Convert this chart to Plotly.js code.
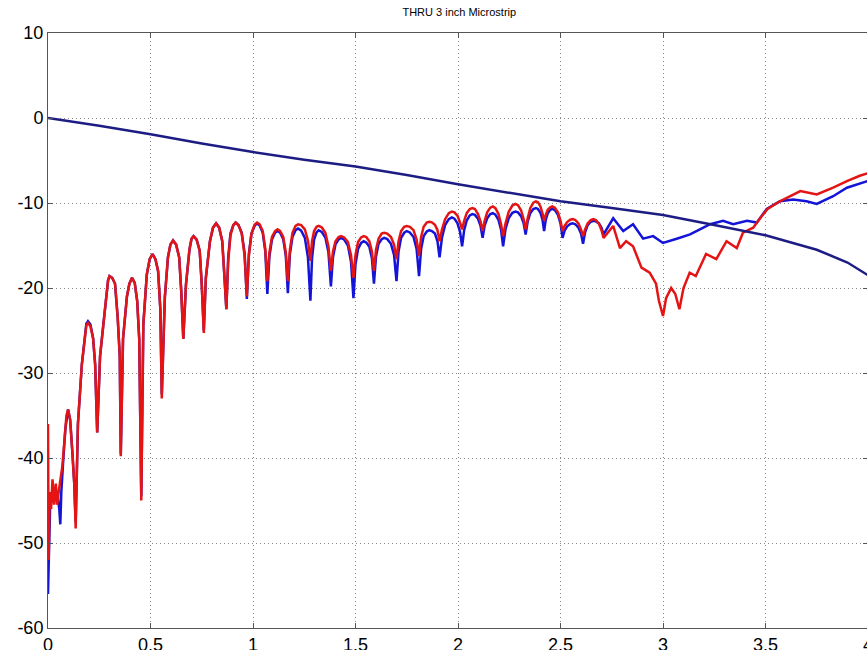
<!DOCTYPE html>
<html><head><meta charset="utf-8">
<script src="https://cdn.plot.ly/plotly-3.0.1.min.js"></script>
<style>html,body{margin:0;padding:0;overflow:hidden;background:#fff}#c{width:869px;height:650px}</style>
</head><body><div id="c"></div>
<script>
const titleText = "THRU 3 inch Microstrip";
const xTicks = [0,0.5,1,1.5,2,2.5,3,3.5,4];
const xTickText = ["0","0.5","1","1.5","2","2.5","3","3.5","4"];
const yTicks = [-60,-50,-40,-30,-20,-10,0,10];
const yTickText = ["-60","-50","-40","-30","-20","-10","0","10"];

// Navy trace (insertion loss)
const navyX = [0,0.25,0.5,0.75,1.0,1.25,1.5,1.75,2.0,2.25,2.5,2.75,3.0,3.25,3.5,3.75,3.9,4.0];
const navyY = [0,-0.9,-1.9,-3.0,-4.0,-4.9,-5.7,-6.7,-7.8,-8.8,-9.8,-10.6,-11.4,-12.6,-13.8,-15.5,-17.0,-18.5];

// Red trace
const redX = [0,0.003,0.008,0.015,0.022,0.030,0.038,0.045,0.052,0.060,0.070,0.080,0.090,0.098,0.108,0.118,0.128,0.135,0.142,0.146,0.165,0.18,0.187,0.195,0.207,0.22,0.23,0.24,0.254,0.27,0.287,0.293,0.30,0.313,0.327,0.34,0.35,0.355,0.366,0.385,0.397,0.41,0.423,0.435,0.445,0.455,0.465,0.482,0.496,0.51,0.524,0.537,0.548,0.555,0.57,0.585,0.597,0.61,0.625,0.64,0.65,0.66,0.673,0.69,0.70,0.71,0.725,0.74,0.75,0.76,0.77,0.79,0.805,0.82,0.835,0.85,0.86,0.87,
0.879,0.890,0.904,0.915,0.929,0.945,0.959,0.97,
0.98,0.9925,1.0075,1.02,1.0325,1.0475,1.06,1.07,
1.08,1.0925,1.1075,1.12,1.1325,1.1475,1.16,1.17,
1.18,1.1925,1.2075,1.22,1.235,1.253,1.268,1.28,
1.288,1.298,1.31,1.32,1.335,1.353,1.368,1.38,
1.39,1.4025,1.4175,1.43,1.445,1.463,1.478,1.49,
1.50,1.5125,1.5275,1.54,1.5525,1.5675,1.58,1.59,
1.60,1.6125,1.6275,1.64,1.655,1.673,1.688,1.70,
1.71,1.7225,1.7375,1.75,1.765,1.783,1.798,1.81,
1.82,1.8325,1.8475,1.86,1.8725,1.8875,1.90,1.91,
1.922,1.937,1.955,1.97,1.9825,1.9975,2.01,2.02,
2.03,2.0425,2.0575,2.07,2.0825,2.0975,2.11,2.12,
2.13,2.1425,2.1575,2.17,2.1825,2.1975,2.21,2.22,
2.232,2.247,2.265,2.28,2.2925,2.3075,2.32,2.33,
2.34,2.3525,2.3675,2.38,2.39,2.402,2.412,2.42,
2.428,2.438,2.45,2.46,2.4725,2.4875,2.50,2.51,
2.52,2.5325,2.5475,2.56,2.5725,2.5875,2.60,2.61,
2.62,2.6325,2.6475,2.66,2.6725,2.6875,2.70,2.71,
2.757,2.79,2.82,2.854,2.895,2.935,2.966,2.98,3.0,3.015,3.04,3.06,3.08,3.10,3.13,3.16,3.21,3.26,3.31,3.36,3.39,3.44,3.47,3.51,3.57,3.62,3.67,3.75,3.83,3.90,3.96,4.0];
const redY = [-36,-52,-44,-46,-42.5,-45.5,-43,-45.5,-44,-42.5,-41,-38,-35,-34.3,-35.5,-39,-43,-48.3,-41,-36,-29,-25.4,-24.4,-24.1,-24.5,-25.9,-29,-37,-28,-24.3,-19.8,-19.1,-18.6,-18.8,-19.5,-23.5,-28,-39.8,-26,-21,-19.5,-18.8,-19.4,-21.5,-26,-45,-24.3,-18.4,-16.6,-16.0,-16.6,-18,-22.5,-33,-21.1,-16.4,-14.9,-14.4,-14.9,-16.4,-20.4,-26,-19.6,-15.5,-14.2,-13.9,-14.3,-15.6,-19.6,-25.3,-18.8,-14.5,-12.9,-12.4,-12.9,-14.5,-18.4,-22.5,
-16.9,-13.8,-12.6,-12.3,-12.6,-13.6,-16.2,-21,
-16.2,-13.6,-12.56,-12.3,-12.5,-13.3,-15.4,-19.2,
-15.8,-14.0,-13.3,-13.1,-13.3,-14.0,-15.8,-19.2,
-15.5,-13.5,-12.7,-12.5,-12.6,-13.1,-14.4,-16.8,
-14.5,-13.3,-12.8,-12.7,-12.86,-13.5,-15.1,-18,
-15.7,-14.5,-14.0,-13.9,-14.05,-14.6,-16.1,-18.8,
-16.1,-14.6,-14.05,-13.9,-14.0,-14.5,-15.7,-18,
-15.5,-14.2,-13.6,-13.5,-13.6,-14.0,-14.9,-16.6,
-14.5,-13.3,-12.8,-12.7,-12.8,-13.2,-14.3,-16.2,
-14.0,-12.8,-12.3,-12.2,-12.27,-12.55,-13.2,-14.5,
-13.1,-11.9,-11.2,-11.0,-11.1,-11.5,-12.3,-13.1,
-12.1,-11.2,-10.7,-10.6,-10.7,-11.3,-12.2,-13.3,
-12.1,-11.1,-10.55,-10.4,-10.6,-11.3,-12.5,-13.9,
-12.4,-11.05,-10.3,-10.1,-10.25,-10.85,-11.9,-13.1,
-11.8,-10.6,-9.95,-9.8,-9.9,-10.4,-11.2,-12.1,
-11.4,-10.8,-10.5,-10.4,-10.55,-11.1,-12.1,-13.3,
-12.7,-12.25,-11.97,-11.9,-12.0,-12.4,-13.1,-13.9,
-13.1,-12.4,-12.0,-11.9,-12.0,-12.45,-13.2,-14.1,
-12.7,-15.3,-14.5,-15.1,-17.6,-18.2,-19.5,-21.5,-23.3,-21.2,-20,-20.7,-22.5,-20,-18.2,-18.6,-16,-16.6,-14.5,-15.3,-13.5,-12.9,-11.9,-10.7,-9.8,-9.2,-8.6,-9.0,-8.2,-7.4,-6.8,-6.5];

// Blue trace
const blueX = [0,0.004,0.01,0.02,0.03,0.045,0.055,0.06,0.065,0.075,0.085,0.098,0.108,0.118,0.128,0.135,0.142,0.146,0.165,0.18,0.187,0.195,0.207,0.22,0.23,0.24,0.254,0.27,0.287,0.293,0.30,0.313,0.327,0.34,0.35,0.355,0.366,0.385,0.397,0.41,0.423,0.435,0.445,0.455,0.465,0.482,0.496,0.51,0.524,0.537,0.548,0.555,0.57,0.585,0.597,0.61,0.625,0.64,0.65,0.66,0.673,0.69,0.70,0.71,0.725,0.74,0.75,0.76,0.77,0.79,0.805,0.82,0.835,0.85,0.86,0.87,
0.879,0.890,0.904,0.915,0.929,0.945,0.959,0.97,
0.98,0.9925,1.0075,1.02,1.0325,1.0475,1.06,1.07,
1.08,1.0925,1.1075,1.12,1.1325,1.1475,1.16,1.17,
1.18,1.1925,1.2075,1.22,1.235,1.253,1.268,1.28,
1.288,1.298,1.31,1.32,1.335,1.353,1.368,1.38,
1.39,1.4025,1.4175,1.43,1.445,1.463,1.478,1.49,
1.50,1.5125,1.5275,1.54,1.5525,1.5675,1.58,1.59,
1.60,1.6125,1.6275,1.64,1.655,1.673,1.688,1.70,
1.71,1.7225,1.7375,1.75,1.765,1.783,1.798,1.81,
1.82,1.8325,1.8475,1.86,1.8725,1.8875,1.90,1.91,
1.922,1.937,1.955,1.97,1.9825,1.9975,2.01,2.02,
2.03,2.0425,2.0575,2.07,2.0825,2.0975,2.11,2.12,
2.13,2.1425,2.1575,2.17,2.1825,2.1975,2.21,2.22,
2.232,2.247,2.265,2.28,2.2925,2.3075,2.32,2.33,
2.34,2.3525,2.3675,2.38,2.39,2.402,2.412,2.42,
2.428,2.438,2.45,2.46,2.4725,2.4875,2.50,2.51,
2.52,2.5325,2.5475,2.56,2.5725,2.5875,2.60,2.61,
2.62,2.6325,2.6475,2.66,2.6725,2.6875,2.70,2.71,
2.757,2.806,2.854,2.903,2.952,3.0,3.067,3.132,3.18,3.23,3.293,3.342,3.41,3.458,3.506,3.57,3.635,3.70,3.75,3.83,3.897,4.0];
const blueY = [-56,-53,-46,-44,-45,-44,-46,-47.8,-44,-40,-36.5,-34.3,-35.5,-39,-43,-47.5,-41,-36,-29,-25.2,-24.2,-23.9,-24.3,-25.9,-29,-37,-28,-24.3,-19.8,-19.1,-18.6,-18.8,-19.5,-23.5,-28,-39.5,-26,-21,-19.5,-18.8,-19.4,-21.5,-26,-44.5,-24.3,-18.4,-16.6,-16.0,-16.6,-18,-22.5,-32.5,-21.1,-16.4,-14.9,-14.4,-14.9,-16.4,-20.4,-26,-19.6,-15.5,-14.2,-13.9,-14.3,-15.6,-19.6,-25,-18.8,-14.5,-12.9,-12.4,-12.9,-14.5,-18.4,-22.5,
-16.4,-13.6,-12.6,-12.3,-12.6,-13.5,-15.9,-21.3,
-15.96,-13.6,-12.7,-12.4,-12.65,-13.5,-15.7,-20.7,
-16.3,-14.3,-13.5,-13.3,-13.5,-14.25,-16.2,-20.6,
-16.0,-14.0,-13.2,-13.0,-13.25,-14.1,-16.4,-21.5,
-16.5,-14.3,-13.45,-13.2,-13.4,-14.06,-15.8,-19.8,
-16.4,-14.85,-14.27,-14.1,-14.3,-15.0,-16.9,-21.2,
-17.2,-15.4,-14.7,-14.5,-14.65,-15.15,-16.5,-19.5,
-16.3,-14.8,-14.26,-14.1,-14.25,-14.8,-16.1,-19.2,
-15.7,-14.1,-13.5,-13.3,-13.46,-14.0,-15.4,-18.6,
-15.4,-13.9,-13.36,-13.2,-13.3,-13.6,-14.5,-16.4,
-14.05,-12.6,-11.9,-11.7,-11.84,-12.4,-13.4,-15.1,
-13.2,-12.06,-11.45,-11.3,-11.4,-11.86,-12.7,-14.1,
-12.65,-11.8,-11.3,-11.2,-11.36,-12.0,-13.15,-15.1,
-13.05,-11.8,-11.16,-11.0,-11.1,-11.54,-12.35,-13.7,
-12.15,-11.2,-10.72,-10.6,-10.7,-11.14,-11.95,-13.3,
-12.0,-11.2,-10.8,-10.7,-10.84,-11.4,-12.4,-14.1,
-13.25,-12.74,-12.47,-12.4,-12.5,-12.9,-13.6,-14.8,
-13.45,-12.6,-12.2,-12.1,-12.16,-12.4,-12.9,-13.7,
-11.8,-13.3,-12.5,-14.2,-13.9,-14.7,-14.2,-13.7,-13.1,-12.5,-12.1,-12.5,-12.1,-12.3,-10.7,-9.8,-9.6,-9.8,-10.1,-9.2,-8.2,-7.4];

const traces = [
  {x: blueX, y: blueY, type: 'scatter', mode: 'lines', line: {color: '#1414d8', width: 2.5}, hoverinfo: 'skip'},
  {x: redX, y: redY, type: 'scatter', mode: 'lines', line: {color: '#e41414', width: 2.5}, hoverinfo: 'skip'},
  {x: navyX, y: navyY, type: 'scatter', mode: 'lines', line: {color: '#1c1c84', width: 2.5}, hoverinfo: 'skip'}
];

const axisCommon = {
  showline: true, linecolor: '#555', linewidth: 1, mirror: 'ticks',
  ticks: 'inside', ticklen: 5, tickcolor: '#555', tickwidth: 1,
  showgrid: true, gridcolor: '#888', gridwidth: 1, griddash: '1px,3px',
  zeroline: false, tickfont: {family: 'Liberation Sans, Arial, sans-serif', size: 18, color: '#000'},
  tickmode: 'array', automargin: false, fixedrange: true, ticklabeloverflow: 'allow'
};

const layout = {
  width: 869, height: 650,
  margin: {l: 48, r: 1, t: 33, b: 22},
  paper_bgcolor: '#fff', plot_bgcolor: '#fff',
  showlegend: false,
  title: {text: titleText, x: 0.5285, xanchor: 'center', y: 0.982, yanchor: 'middle',
          font: {family: 'Liberation Sans, Arial, sans-serif', size: 11, color: '#000'}},
  xaxis: Object.assign({}, axisCommon, {range: [0, 4], tickvals: xTicks, ticktext: xTickText}),
  yaxis: Object.assign({}, axisCommon, {range: [-60, 10], tickvals: yTicks, ticktext: yTickText})
};

Plotly.newPlot('c', traces, layout, {staticPlot: true, displayModeBar: false});
</script></body></html>
